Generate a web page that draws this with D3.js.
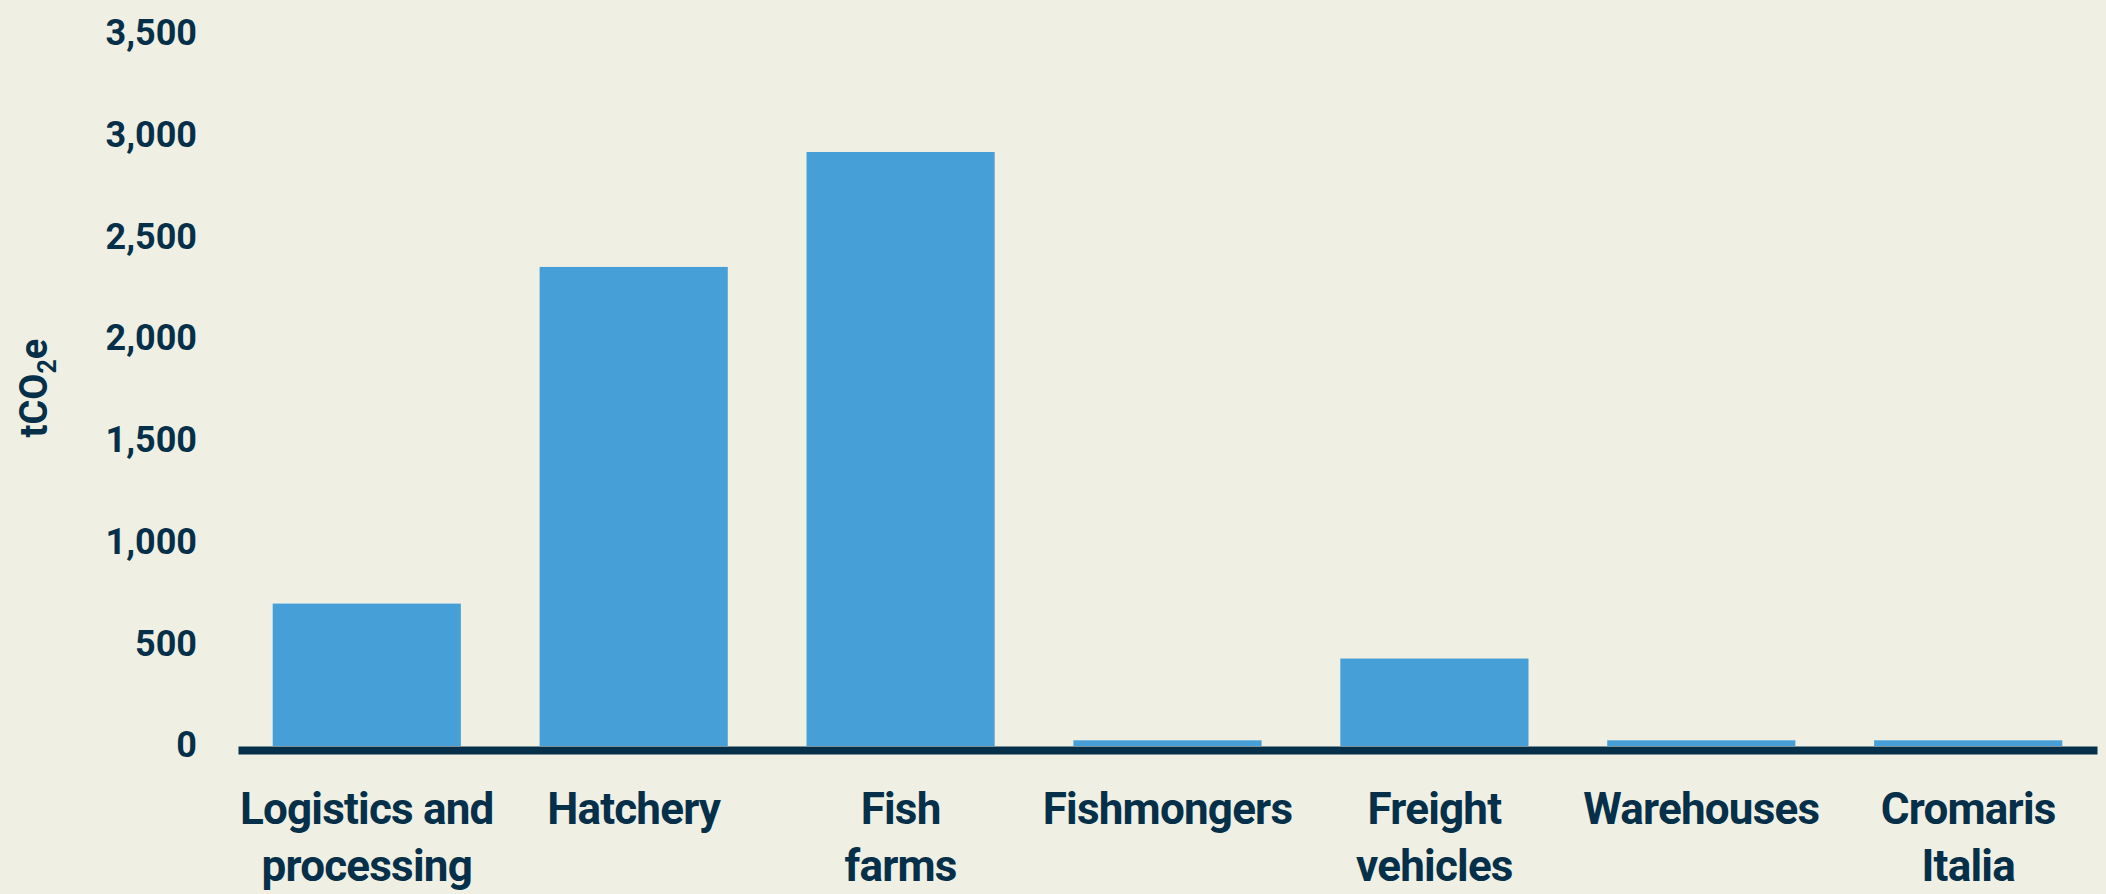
<!DOCTYPE html>
<html>
<head>
<meta charset="utf-8">
<script src="https://cdn.jsdelivr.net/npm/d3@7"></script>
<style>
  html, body { margin: 0; padding: 0; background: #eff0e3; }
  svg { display: block; }
  text { font-family: Roboto, "Noto Sans", sans-serif; fill: #06304a; }
</style>
</head>
<body>
<svg id="chart" width="2106" height="894"></svg>
<script>
const categories = ["Logistics and processing", "Hatchery", "Fish farms", "Fishmongers", "Freight vehicles", "Warehouses", "Cromaris Italia"];
const categoryLines = [["Logistics and", "processing"], ["Hatchery"], ["Fish", "farms"], ["Fishmongers"], ["Freight", "vehicles"], ["Warehouses"], ["Cromaris", "Italia"]];
const values = [700, 2355, 2920, 28, 430, 28, 28];
const yTicks = [0, 500, 1000, 1500, 2000, 2500, 3000, 3500];

const W = 2106, H = 894;
const svg = d3.select("#chart");
svg.append("rect").attr("width", W).attr("height", H).attr("fill", "#eff0e3");

const x = d3.scaleBand().domain(categories).range([238, 2097]).paddingInner(0.295).paddingOuter(0.13);
const y = d3.scaleLinear().domain([0, 3500]).range([746, 34]);

// bars
svg.append("g").selectAll("rect").data(categories).join("rect")
  .attr("x", d => x(d))
  .attr("width", x.bandwidth())
  .attr("y", (d, i) => y(values[i]))
  .attr("height", (d, i) => y(0) - y(values[i]))
  .attr("fill", "#479fd8");

// y axis labels
const yAxis = d3.axisLeft(y).tickValues(yTicks).tickFormat(d3.format(",")).tickSize(0).tickPadding(0);
const gy = svg.append("g").attr("transform", "translate(197,0)").call(yAxis);
gy.select(".domain").remove();
gy.selectAll("text")
  .attr("font-family", "Roboto, sans-serif")
  .attr("font-size", 36)
  .attr("font-weight", 700)
  .attr("fill", "#06304a")
  .attr("dy", "0.3em");

// x axis baseline
const xAxis = d3.axisBottom(x).tickSize(0).tickFormat("");
const gx = svg.append("g").attr("transform", `translate(0,${y(0) + 4})`).call(xAxis);
gx.select(".domain").attr("stroke", "#06304a").attr("stroke-width", 8);
gx.selectAll(".tick text").remove();

// x labels
const lbl = svg.append("g");
categories.forEach((c, i) => {
  const t = lbl.append("text")
    .attr("x", x(c) + x.bandwidth() / 2)
    .attr("y", 824)
    .attr("text-anchor", "middle")
    .attr("font-size", 44)
    .attr("font-weight", 700)
    .attr("letter-spacing", -0.8);
  categoryLines[i].forEach((line, j) => {
    t.append("tspan").attr("x", x(c) + x.bandwidth() / 2).attr("dy", j === 0 ? 0 : 57).text(line);
  });
});

// y title
const yt = svg.append("text")
  .attr("transform", "translate(47,388) rotate(-90)")
  .attr("text-anchor", "middle")
  .attr("font-size", 38)
  .attr("font-weight", 700);
yt.append("tspan").text("tCO");
yt.append("tspan").attr("font-size", 25).attr("dy", 9).text("2");
yt.append("tspan").attr("dy", -9).text("e");
</script>
</body>
</html>
